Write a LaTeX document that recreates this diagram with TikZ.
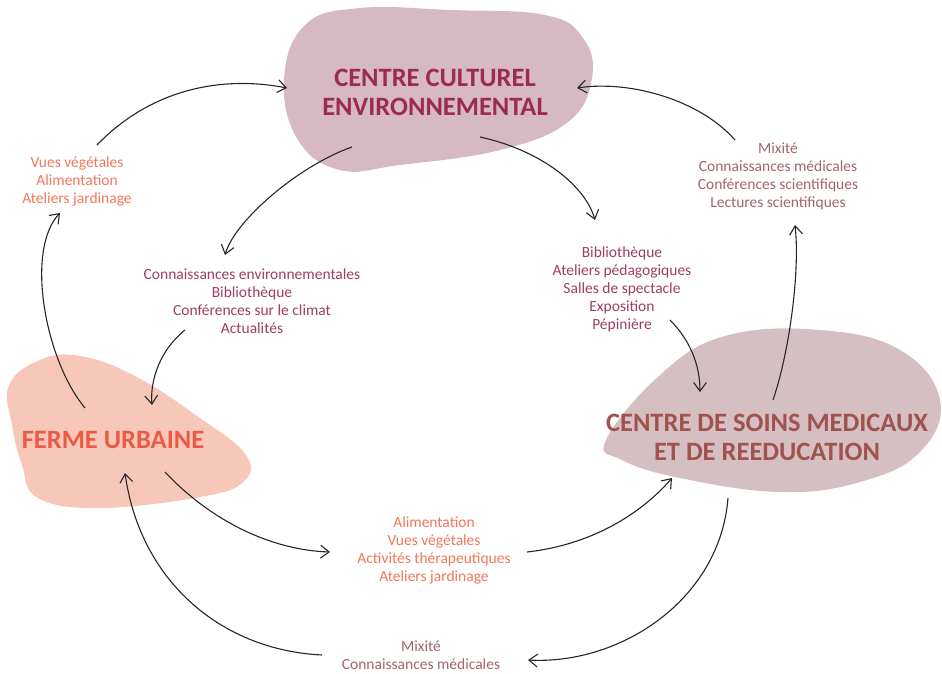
\documentclass[tikz,border=0pt]{standalone}
\usepackage{fontspec}
\setmainfont{Carlito}
\usetikzlibrary{positioning, arrows.meta, calc}

\definecolor{culturelfill}{HTML}{D7B9C3}
\definecolor{culturelink}{HTML}{9C2B52}
\definecolor{fermefill}{HTML}{F7C8BA}
\definecolor{fermeink}{HTML}{EA5B45}
\definecolor{soinsfill}{HTML}{D6BFC3}
\definecolor{soinsink}{HTML}{A0524D}
\definecolor{orangeink}{HTML}{F0775A}
\definecolor{plumink}{HTML}{9E3D62}
\definecolor{mauveink}{HTML}{A2646C}

\begin{document}
\begin{tikzpicture}[
    x=1pt, y=-1pt,
    % Styles
    title/.style={ % Big label inside a blob
        align=center,
        font=\fontsize{26.5}{29}\selectfont\bfseries
    },
    flow/.style={ % Small list of exchanges
        align=center,
        font=\fontsize{15.5}{18}\selectfont
    },
    arrow/.style={
        -{Straight Barb[length=3mm, width=4.5mm]},
        line width=1.1pt,
        black!85
    }
]
    \useasboundingbox (0,0) rectangle (942,673);

    % Blobs
    \fill[culturelfill] plot[smooth cycle, tension=0.7] coordinates {
        (284,80) (305,25) (360,8) (450,10) (545,15) (583,38) (592,78)
        (568,122) (500,150) (400,165) (340,170) (298,140)};
    \fill[fermefill] plot[smooth cycle, tension=0.7] coordinates {
        (9,385) (40,360) (80,356) (135,376) (200,418) (246,455) (243,482)
        (200,497) (100,508) (38,498) (22,465) (12,425)};
    \fill[soinsfill] plot[smooth cycle, tension=0.7] coordinates {
        (606,440) (660,375) (725,336) (820,330) (900,350) (940,400)
        (920,452) (860,482) (780,492) (680,478) (622,460)};

    % Titles
    \node[title, text=culturelink] (culturel) at (435,92)
        {CENTRE CULTUREL\\ENVIRONNEMENTAL};
    \node[title, text=fermeink] (ferme) at (113,440) {FERME URBAINE};
    \node[title, text=soinsink] (soins) at (767,437)
        {CENTRE DE SOINS MEDICAUX\\ET DE REEDUCATION};

    % Exchanges
    \node[flow, text=orangeink] (vues) at (77,181)
        {Vues végétales\\Alimentation\\Ateliers jardinage};
    \node[flow, text=plumink] (envir) at (252,301)
        {Connaissances environnementales\\Bibliothèque\\Conférences sur le climat\\Actualités};
    \node[flow, text=plumink] (biblio) at (622,289)
        {Bibliothèque\\Ateliers pédagogiques\\Salles de spectacle\\Exposition\\Pépinière};
    \node[flow, text=mauveink] (mixsci) at (778,176)
        {Mixité\\Connaissances médicales\\Conférences scientifiques\\Lectures scientifiques};
    \node[flow, text=orangeink] (alim) at (434,550)
        {Alimentation\\Vues végétales\\Activités thérapeutiques\\Ateliers jardinage};
    \node[flow, text=mauveink] (mixmed) at (421,655)
        {Mixité\\Connaissances médicales};

    % Arrows
    \draw[arrow] ([shift={(-28,-32)}]ferme.center)
        .. controls (45,360) and (25,250) .. ([shift={(-17,32)}]vues.center);
    \draw[arrow] ([shift={(20,-36)}]vues.center)
        .. controls (150,90) and (220,75) .. ([shift={(-148,-4)}]culturel.center);
    \draw[arrow] ([shift={(-83,55)}]culturel.center)
        .. controls (300,165) and (235,220) .. ([shift={(-27,-46)}]envir.center);
    \draw[arrow] ([shift={(-67,29)}]envir.center)
        .. controls (160,350) and (150,380) .. ([shift={(39,-35)}]ferme.center);
    \draw[arrow] ([shift={(45,45)}]culturel.center)
        .. controls (540,150) and (585,185) .. ([shift={(-27,-69)}]biblio.center);
    \draw[arrow] ([shift={(48,31)}]biblio.center)
        .. controls (690,340) and (700,365) .. ([shift={(-67,-45)}]soins.center);
    \draw[arrow] ([shift={(6,-37)}]soins.center)
        .. controls (790,350) and (800,270) .. ([shift={(17,49)}]mixsci.center);
    \draw[arrow] ([shift={(-43,-36)}]mixsci.center)
        .. controls (700,100) and (630,80) .. ([shift={(142,-4)}]culturel.center);
    \draw[arrow] ([shift={(52,32)}]ferme.center)
        .. controls (210,520) and (270,550) .. ([shift={(-104,2)}]alim.center);
    \draw[arrow] ([shift={(93,2)}]alim.center)
        .. controls (590,545) and (640,515) .. ([shift={(-95,41)}]soins.center);
    \draw[arrow] ([shift={(-39,61)}]soins.center)
        .. controls (720,600) and (620,665) .. ([shift={(107,5)}]mixmed.center);
    \draw[arrow] ([shift={(-99,0)}]mixmed.center)
        .. controls (220,650) and (140,580) .. ([shift={(12,33)}]ferme.center);
\end{tikzpicture}
\end{document}
